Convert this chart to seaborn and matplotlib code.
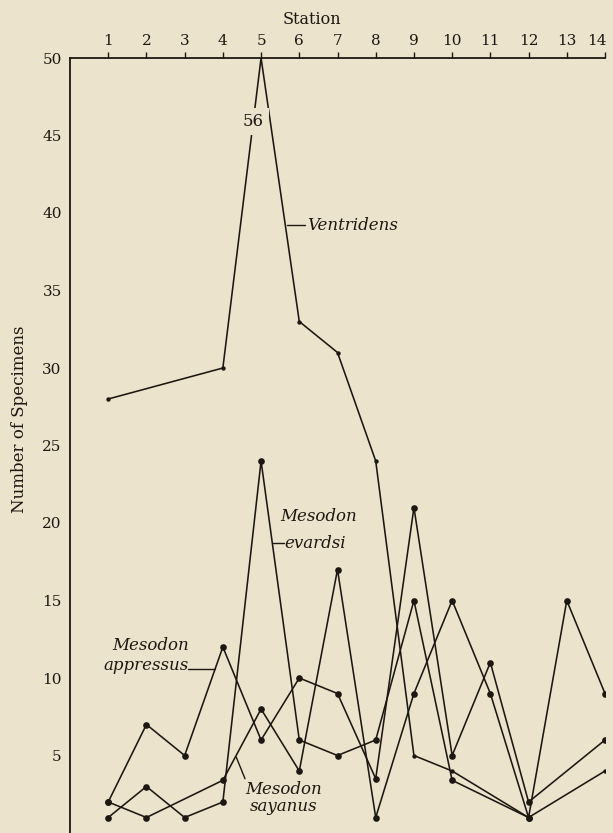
import numpy as np
import pandas as pd
import seaborn as sns
from matplotlib import pyplot as plt
from matplotlib.transforms import ScaledTranslation

nan = np.nan

# counts per station (nan = no point at that station)
stations = list(range(1, 15))
ventridens = [28, nan, nan, 30, 56, 33, 31, 24, 5, 4, nan, 1, nan, 4]
appressus = [2, 7, 5, 12, 6, 10, 9, 3.5, 21, 5, 11, 2, nan, 6]
sayanus = [2, 1, nan, 3.4, 8, 4, 17, 1, 9, 15, 9, 1, 15, 9]
evardsi = [1, 3, 1, 2, 24, 6, 5, 6, 15, 3.4, nan, 1, nan, nan]
y_ticks = list(range(5, 51, 5))
y_top = 50  # the plot is cut here, the Ventridens peak is written in as a number

bg = '#ECE3CC'
ink = '#1c1712'

if __name__ == '__main__':
    sns.set_theme(style='white')
    plt.rcParams['font.family'] = ['DejaVu Serif', 'DejaVu Sans']
    plt.rcParams['axes.unicode_minus'] = False

    fig = plt.figure(figsize=(6.13, 8.33), dpi=100, facecolor=bg)
    ax = fig.add_axes([70 / 613, 0, 535 / 613, 775 / 833])
    ax.set_facecolor(bg)

    for vals in [appressus, sayanus, evardsi]:
        d = pd.DataFrame({'station': stations, 'count': vals}).dropna()
        sns.lineplot(data=d, x='station', y='count', color=ink, linewidth=1.15,
                     marker='o', markersize=4.8, markeredgewidth=0, ax=ax)

    dv = pd.DataFrame({'station': stations, 'count': ventridens}).dropna()
    dv['drawn'] = dv['count'].clip(upper=y_top)
    sns.lineplot(data=dv, x='station', y='drawn', color=ink, linewidth=1.15, ax=ax)
    sns.scatterplot(data=dv[dv['count'] < y_top], x='station', y='count', color=ink,
                    s=10, linewidth=0, ax=ax)

    ax.set_xlim(0, 14)
    ax.set_ylim(0, y_top)
    ax.xaxis.tick_top()
    ax.set_xticks(stations)
    ax.set_yticks(y_ticks)
    ax.tick_params(axis='x', direction='out', length=4, width=1, color=ink,
                   labelsize=11, pad=3, labelcolor=ink)
    ax.tick_params(axis='y', direction='out', length=3, width=1, color=ink,
                   labelsize=11, pad=3, labelcolor=ink)
    # last station label sits against the page edge
    last = ax.get_xticklabels()[-1]
    last.set_transform(last.get_transform() + ScaledTranslation(-6 / 72, 0, fig.dpi_scale_trans))
    for side in ['right', 'bottom']:
        ax.spines[side].set_visible(False)
    for side in ['left', 'top']:
        ax.spines[side].set_color(ink)
        ax.spines[side].set_linewidth(1.3)
    ax.set_xlabel('')
    ax.set_ylabel('')

    ax.text(0.452, 1 + 38 / 775, 'Station', transform=ax.transAxes, ha='center',
            va='center', fontsize=11.5, color=ink)
    fig.text(20 / 613, 1 - 419 / 833, 'Number of Specimens', rotation=90,
             ha='center', va='center', fontsize=12, color=ink)

    # the real peak value, sitting in a gap of the rising line
    ax.text(4.8, 45.9, '56', ha='center', va='center', fontsize=12, color=ink,
            zorder=5, bbox=dict(facecolor=bg, edgecolor='none', boxstyle='square,pad=0.3'))

    # species labels with short leader lines
    lab = dict(fontsize=12, style='italic', color=ink)
    ax.plot([5.68, 6.15], [39.2, 39.2], color=ink, lw=1)
    ax.text(6.2, 39.2, 'Ventridens', ha='left', va='center', **lab)

    ax.text(5.5, 20.4, 'Mesodon', ha='left', va='center', **lab)
    ax.plot([5.3, 5.6], [18.7, 18.7], color=ink, lw=1)
    ax.text(5.62, 18.7, 'evardsi', ha='left', va='center', **lab)

    ax.text(2.1, 12.1, 'Mesodon', ha='center', va='center', **lab)
    ax.text(1.98, 10.8, 'appressus', ha='center', va='center', **lab)
    ax.plot([3.1, 3.8], [10.6, 10.6], color=ink, lw=1)

    ax.plot([4.35, 4.58], [4.9, 3.5], color=ink, lw=1)
    ax.text(5.6, 2.8, 'Mesodon', ha='center', va='center', **lab)
    ax.text(5.6, 1.7, 'sayanus', ha='center', va='center', **lab)

    plt.savefig('out.png', dpi=100, facecolor=bg)
